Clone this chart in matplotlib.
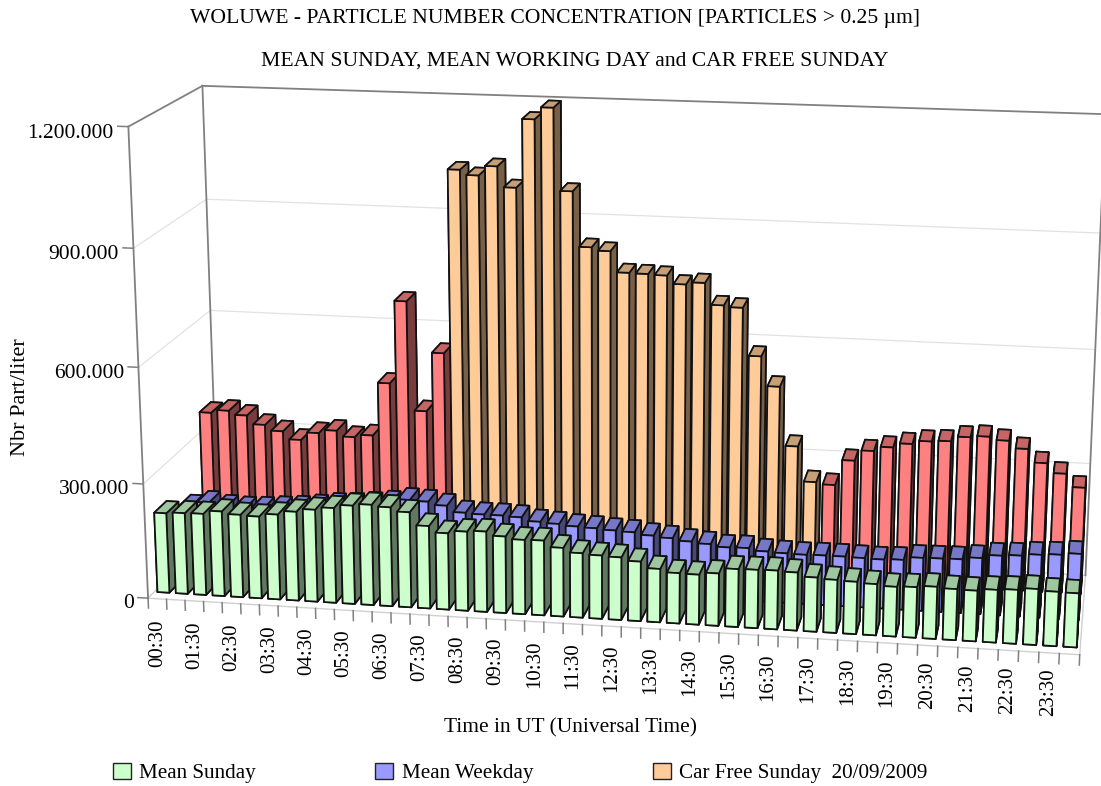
import matplotlib
matplotlib.use("Agg")
import matplotlib.pyplot as plt
from matplotlib.patches import Patch
from mpl_toolkits.mplot3d import proj3d

plt.rcParams["font.family"] = "Liberation Serif"

time_labels = ["00:30", "01:30", "02:30", "03:30", "04:30", "05:30", "06:30", "07:30",
               "08:30", "09:30", "10:30", "11:30", "12:30", "13:30", "14:30", "15:30",
               "16:30", "17:30", "18:30", "19:30", "20:30", "21:30", "22:30", "23:30"]

mean_sunday = [210, 213, 214, 223, 217, 215, 223, 233, 241, 248, 257, 262, 258, 248, 215, 199,
               206, 209, 199, 193, 194, 178, 167, 164, 162, 154, 138, 130, 129, 135, 149, 150,
               151, 149, 139, 136, 134, 131, 127, 129, 133, 130, 129, 134, 137, 142, 138, 137]

mean_weekday = [166, 179, 171, 169, 171, 175, 179, 185, 192, 195, 200, 206, 216, 214, 206, 190,
                188, 188, 186, 177, 174, 170, 168, 165, 163, 157, 153, 147, 143, 137, 138, 132,
                130, 129, 130, 130, 129, 128, 130, 138, 139, 140, 146, 155, 158, 163, 166, 171]

car_free = [362, 370, 359, 336, 321, 300, 321, 330, 315, 322, 465, 685, 395, 552, 1033, 1020,
            1045, 992, 1168, 1199, 988, 846, 838, 784, 783, 781, 760, 766, 710, 706, 582, 505,
            350, 258, 253, 320, 348, 360, 372, 381, 384, 397, 401, 393, 374, 339, 314, 280]

# the back row is orange only for these half hours, red for the rest
orange_first = 14
orange_last = 33

y_ticks = [0, 300, 600, 900, 1200]
y_tick_labels = ["0", "300.000", "600.000", "900.000", "1.200.000"]

GREEN = "#CCFFCC"
BLUE = "#9999FF"
ORANGE = "#FFCC99"
RED = "#FF8080"
FRAME = "#808080"
GRID = "#E2E2E2"


def shade(color, factor):
    r, g, b = matplotlib.colors.to_rgb(color)
    return (r * factor, g * factor, b * factor)


def draw_bar(ax, slot, row, value, color, order):
    top = shade(color, 0.78)
    side = shade(color, 0.47)
    # face order of bar3d: bottom, top, front, back, left, right
    ax.bar3d(slot + 0.175, row + 0.25, 0, 0.65, 0.5, value, color=[color, top, color, color, side, side],
             shade=False, edgecolor="#111111", linewidth=1.25, zorder=order)


def label_at(ax, x, y, z, text, **kwargs):
    # Text3D forces its own angle, so project the anchor and use a plain text
    xv, yv, _ = proj3d.proj_transform(x, y, z, ax.get_proj())
    ax.text2D(xv, yv, text, transform=ax.transData, **kwargs)


width_px = 1101
height_px = 786
fig = plt.figure(figsize=(width_px / 100, height_px / 100), dpi=100)

# camera found by fitting the frame corners of the reference
scale = 5635.72
box = 0.185 * scale
left = 622.57 - 0.095 * scale
bottom = height_px - 358.30 - 0.095 * scale
ax = fig.add_axes([left / width_px, bottom / height_px, box / width_px, box / height_px], projection="3d")
ax.set_xlim(0, 48, view_margin=0)
ax.set_ylim(0, 3, view_margin=0)
ax.set_zlim(0, 1200, view_margin=0)
ax.view_init(elev=14.9344, azim=-80.2131, roll=-0.0766)
ax.set_proj_type("persp", focal_length=0.5321)
ax.set_box_aspect((1, 0.2536, 0.5186))
ax.set_axis_off()
ax.computed_zorder = False
ax.patch.set_alpha(0)

# walls
for z in y_ticks[1:-1]:
    ax.plot([0, 0, 48], [0, 3, 3], [z, z, z], color=GRID, lw=0.9, zorder=1)
ax.plot([0, 48, 48], [0, 0, 3], [0, 0, 0], color="#D0D0D0", lw=1.0, zorder=2)
ax.plot([0, 0, 48], [0, 3, 3], [0, 0, 0], color="#D0D0D0", lw=1.0, zorder=2)
ax.plot([0, 0], [0, 0], [0, 1200], color=FRAME, lw=1.3, zorder=3)
ax.plot([0, 0], [0, 3], [1200, 1200], color=FRAME, lw=1.3, zorder=3)
ax.plot([0, 0], [3, 3], [0, 1200], color=FRAME, lw=1.3, zorder=3)
ax.plot([0, 48], [3, 3], [1200, 1200], color=FRAME, lw=1.3, zorder=3)
ax.plot([48, 48], [3, 3], [0, 1200], color=FRAME, lw=1.3, zorder=3)

# ticks
for z, label in zip(y_ticks, y_tick_labels):
    ax.plot([-0.55, 0], [0, 0], [z, z], color=FRAME, lw=1.1, zorder=3)
    label_at(ax, -0.78, 0, z - 17, label, ha="right", va="center", fontsize=15.5)
for slot in range(49):
    ax.plot([slot, slot], [0, 0], [0, -26], color=FRAME, lw=1.1, zorder=3)
for i, label in enumerate(time_labels):
    slot = 2 * i
    label_at(ax, slot + 0.5, 0, -54 + 0.3 * slot, label, rotation=90, ha="center", va="top", fontsize=15)

# bars, back row first and left to right
order = 10
for slot, value in enumerate(car_free):
    color = ORANGE if orange_first <= slot <= orange_last else RED
    draw_bar(ax, slot, 2, value, color, order)
    order += 1
for slot, value in enumerate(mean_weekday):
    draw_bar(ax, slot, 1, value, BLUE, order)
    order += 1
for slot, value in enumerate(mean_sunday):
    draw_bar(ax, slot, 0, value, GREEN, order)
    order += 1

fig.text(555 / width_px, 1 - 18.5 / height_px, "WOLUWE - PARTICLE NUMBER CONCENTRATION [PARTICLES > 0.25 µm]",
         ha="center", va="center", fontsize=15.55)
fig.text(574.5 / width_px, 1 - 61 / height_px, "MEAN SUNDAY, MEAN WORKING DAY and CAR FREE SUNDAY",
         ha="center", va="center", fontsize=15.55)
fig.text(21 / width_px, 1 - 397 / height_px, "Nbr Part/liter", rotation=90, ha="center", va="center", fontsize=16)
fig.text(571 / width_px, 1 - 728 / height_px, "Time in UT (Universal Time)", ha="center", va="center", fontsize=15.4)

handles = [Patch(facecolor=GREEN, edgecolor="#222222", label="Mean Sunday"),
           Patch(facecolor=BLUE, edgecolor="#222222", label="Mean Weekday"),
           Patch(facecolor=ORANGE, edgecolor="#222222", label="Car Free Sunday  20/09/2009")]
fig.legend(handles=handles, ncol=3, frameon=False, fontsize=15.2, loc="center left",
           bbox_to_anchor=(113 / width_px, 1 - 773 / height_px), handlelength=0.85, handleheight=0.85,
           handletextpad=0.4, columnspacing=5.65, borderaxespad=0, borderpad=0)

fig.savefig("out.png", dpi=100)
